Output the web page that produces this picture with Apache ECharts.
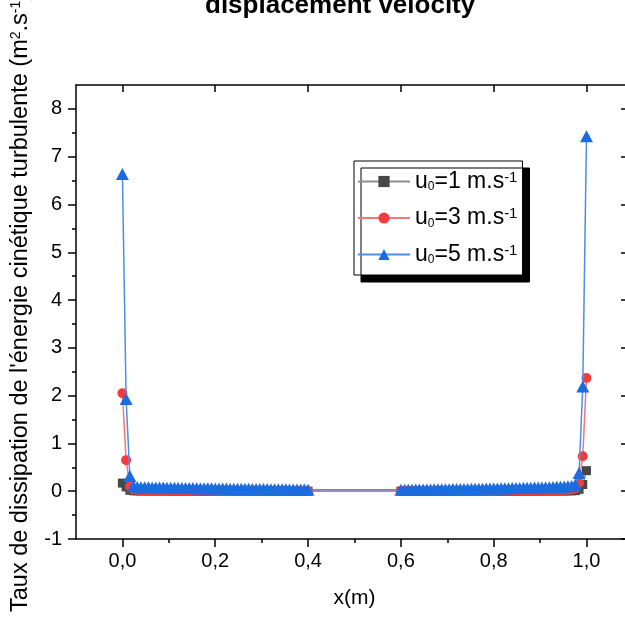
<!DOCTYPE html>
<html>
<head>
<meta charset="utf-8">
<script src="https://cdn.jsdelivr.net/npm/echarts@6/dist/echarts.min.js"></script>
<style>
html,body{margin:0;padding:0;background:#fff;}
#chart{width:625px;height:623px;}
</style>
</head>
<body>
<div id="chart"></div>
<script>
// ---- data ----
const chartTitle = 'displacement velocity';
const yAxisTitle = "Taux de dissipation de l'énergie cinétique turbulente (m{sp|2}.s{sp|-1})";
const seriesNames = ['u0=1 m.s-1', 'u0=3 m.s-1', 'u0=5 m.s-1'];
const xTickValues = [0, 0.2, 0.4, 0.6, 0.8, 1.0];
const xMinorTickValues = [0.1, 0.3, 0.5, 0.7, 0.9];
const yTickValues = [-1, 0, 1, 2, 3, 4, 5, 6, 7, 8];
const yMinorTickValues = [-0.5, 0.5, 1.5, 2.5, 3.5, 4.5, 5.5, 6.5, 7.5];

const xLeft = [0,0.008,0.016,0.024,0.032,0.04,0.048,0.056,0.064,0.072,0.08,0.088,0.096,0.104,0.112,0.12,0.128,0.136,0.144,0.152,0.16,0.168,0.176,0.184,0.192,0.2,0.208,0.216,0.224,0.232,0.24,0.248,0.256,0.264,0.272,0.28,0.288,0.296,0.304,0.312,0.32,0.328,0.336,0.344,0.352,0.36,0.368,0.376,0.384,0.392,0.4];
const xRight = [0.6,0.608,0.616,0.624,0.632,0.64,0.648,0.656,0.664,0.672,0.68,0.688,0.696,0.704,0.712,0.72,0.728,0.736,0.744,0.752,0.76,0.768,0.776,0.784,0.792,0.8,0.808,0.816,0.824,0.832,0.84,0.848,0.856,0.864,0.872,0.88,0.888,0.896,0.904,0.912,0.92,0.928,0.936,0.944,0.952,0.96,0.968,0.976,0.984,0.992,1.0];

// u0 = 1 m/s
const u1Left = [0.17,0.09,0.02,0.009,0.007,0.006,0.006,0.006,0.005,0.005,0.005,0.005,0.005,0.004,0.004,0.004,0.004,0.004,0.004,0.004,0.003,0.003,0.003,0.003,0.003,0.003,0.003,0.003,0.003,0.003,0.002,0.002,0.002,0.002,0.002,0.002,0.002,0.002,0.002,0.002,0.002,0.002,0.002,0.002,0.002,0.002,0.001,0.001,0.001,0.001,0.001];
const u1Right = [0.001,0.001,0.001,0.001,0.001,0.002,0.002,0.002,0.002,0.002,0.002,0.002,0.002,0.002,0.002,0.002,0.002,0.002,0.002,0.002,0.002,0.002,0.002,0.003,0.003,0.003,0.003,0.003,0.003,0.003,0.003,0.003,0.003,0.004,0.004,0.004,0.004,0.004,0.004,0.005,0.005,0.005,0.005,0.006,0.006,0.007,0.008,0.012,0.04,0.14,0.43];
// u0 = 3 m/s
const u3Left = [2.05,0.65,0.10,0.03,0.025,0.024,0.023,0.022,0.022,0.021,0.020,0.020,0.019,0.018,0.018,0.017,0.017,0.016,0.016,0.015,0.015,0.014,0.014,0.013,0.013,0.012,0.012,0.012,0.011,0.011,0.010,0.010,0.010,0.009,0.009,0.009,0.008,0.008,0.008,0.008,0.007,0.007,0.007,0.007,0.006,0.006,0.006,0.006,0.006,0.005,0.005];
const u3Right = [0.005,0.005,0.005,0.006,0.006,0.006,0.006,0.007,0.007,0.007,0.007,0.008,0.008,0.008,0.008,0.009,0.009,0.009,0.010,0.010,0.010,0.011,0.011,0.012,0.012,0.012,0.013,0.013,0.014,0.014,0.015,0.015,0.016,0.017,0.017,0.018,0.019,0.020,0.020,0.021,0.022,0.023,0.024,0.026,0.027,0.029,0.032,0.06,0.17,0.73,2.37];
// u0 = 5 m/s
const u5Left = [6.64,1.93,0.32,0.11,0.09,0.085,0.083,0.082,0.080,0.079,0.077,0.076,0.075,0.073,0.072,0.071,0.069,0.068,0.067,0.066,0.064,0.063,0.062,0.061,0.060,0.058,0.057,0.056,0.055,0.054,0.053,0.052,0.051,0.050,0.049,0.048,0.047,0.046,0.045,0.044,0.043,0.042,0.041,0.040,0.039,0.038,0.037,0.036,0.035,0.034,0.033];
const u5Right = [0.030,0.031,0.032,0.033,0.034,0.035,0.036,0.037,0.038,0.039,0.040,0.041,0.042,0.043,0.044,0.045,0.046,0.047,0.048,0.050,0.051,0.052,0.053,0.055,0.056,0.057,0.059,0.060,0.062,0.063,0.065,0.066,0.068,0.070,0.072,0.074,0.076,0.078,0.080,0.083,0.085,0.088,0.091,0.094,0.098,0.102,0.108,0.14,0.38,2.19,7.43];

// ---- build ----
function pairs(yl, yr) {
  return xLeft.map((x, i) => [x, yl[i]]).concat(xRight.map((x, i) => [x, yr[i]]));
}
const FONT = "'Liberation Sans', Arial, sans-serif";
const legendLabels = {
  'u0=1 m.s-1': '{n|u}{sb|0}{n|=1 m.s}{sp|-1}',
  'u0=3 m.s-1': '{n|u}{sb|0}{n|=3 m.s}{sp|-1}',
  'u0=5 m.s-1': '{n|u}{sb|0}{n|=5 m.s}{sp|-1}'
};
const axisLineStyle = {color: '#000', width: 1.5};
// the frame's right edge lies just outside the picture
const xRange = {type: 'value', min: -0.1, max: 1.083, splitLine: {show: false}};
const yRange = {type: 'value', min: -1, max: 8.5, splitLine: {show: false}};

const chart = echarts.init(document.getElementById('chart'), null, {renderer: 'canvas'});
chart.setOption({
  animation: false,
  backgroundColor: '#fff',
  title: {
    text: chartTitle, left: 200, top: -12,
    textStyle: {fontFamily: FONT, fontSize: 26, fontWeight: 'bold', color: '#000'}
  },
  graphic: [{
    type: 'text', x: 21, y: 612, rotation: Math.PI / 2, silent: true,
    style: {
      text: yAxisTitle, align: 'left', verticalAlign: 'middle',
      fontSize: 23.5, fontFamily: FONT, fill: '#000',
      rich: {sp: {fontSize: 14, fontFamily: FONT, fill: '#000', verticalAlign: 'top'}}
    }
  }],
  grid: {left: 76, top: 85, right: 0, height: 454, containLabel: false},
  xAxis: [
    Object.assign({}, xRange, {
      position: 'bottom',
      axisLine: {show: true, onZero: false, lineStyle: axisLineStyle},
      axisTick: {show: true, customValues: xTickValues, length: 8, lineStyle: axisLineStyle},
      axisLabel: {customValues: xTickValues, fontSize: 20, fontFamily: FONT, color: '#000', margin: 12,
        formatter: v => v.toFixed(1).replace('.', ',')},
      name: 'x(m)', nameLocation: 'middle', nameGap: 49,
      nameTextStyle: {fontSize: 21, fontFamily: FONT, color: '#000', padding: [0, 0, 0, 8]}
    }),
    Object.assign({}, xRange, {
      position: 'bottom',
      axisLine: {show: false, onZero: false},
      axisTick: {show: true, customValues: xMinorTickValues, length: 4, lineStyle: axisLineStyle},
      axisLabel: {show: false}
    }),
    Object.assign({}, xRange, {
      position: 'top',
      axisLine: {show: true, onZero: false, lineStyle: axisLineStyle},
      axisTick: {show: true, inside: true, customValues: xTickValues, length: 7, lineStyle: axisLineStyle},
      axisLabel: {show: false}
    })
  ],
  yAxis: [
    Object.assign({}, yRange, {
      position: 'left',
      axisLine: {show: true, onZero: false, lineStyle: axisLineStyle},
      axisTick: {show: true, customValues: yTickValues, length: 8, lineStyle: axisLineStyle},
      axisLabel: {customValues: yTickValues, fontSize: 20, fontFamily: FONT, color: '#000', margin: 14}
    }),
    Object.assign({}, yRange, {
      position: 'left',
      axisLine: {show: false, onZero: false},
      axisTick: {show: true, customValues: yMinorTickValues, length: 4, lineStyle: axisLineStyle},
      axisLabel: {show: false}
    }),
    Object.assign({}, yRange, {
      position: 'right',
      axisLine: {show: false, onZero: false},
      axisTick: {show: true, inside: true, customValues: yTickValues, length: 4, lineStyle: axisLineStyle},
      axisLabel: {show: false}
    })
  ],
  legend: {
    orient: 'vertical', left: 354, top: 161,
    padding: [9, 5, 9, 3], itemGap: 13.5, itemWidth: 52, itemHeight: 14,
    backgroundColor: '#fff', borderColor: '#000', borderWidth: 1,
    shadowColor: '#000', shadowBlur: 0, shadowOffsetX: 7, shadowOffsetY: 7,
    data: seriesNames,
    formatter: name => legendLabels[name],
    textStyle: {fontSize: 23, fontFamily: FONT, color: '#000',
      rich: {
        n: {fontSize: 23, fontFamily: FONT, color: '#000'},
        sb: {fontSize: 12, fontFamily: FONT, color: '#000', verticalAlign: 'bottom'},
        sp: {fontSize: 15, fontFamily: FONT, color: '#000', verticalAlign: 'top'}
      }}
  },
  series: [
    {name: seriesNames[0], type: 'line', data: pairs(u1Left, u1Right), xAxisIndex: 0, yAxisIndex: 0,
      symbol: 'rect', symbolSize: 9, showAllSymbol: true, z: 2,
      itemStyle: {color: '#474747'}, lineStyle: {color: '#8e8e8e', width: 1.5}},
    {name: seriesNames[1], type: 'line', data: pairs(u3Left, u3Right), xAxisIndex: 0, yAxisIndex: 0,
      symbol: 'circle', symbolSize: 10, showAllSymbol: true, z: 3,
      itemStyle: {color: '#f03c3c'}, lineStyle: {color: '#f27777', width: 1.5}},
    {name: seriesNames[2], type: 'line', data: pairs(u5Left, u5Right), xAxisIndex: 0, yAxisIndex: 0,
      symbol: 'triangle', symbolSize: [13, 12], showAllSymbol: true, z: 4,
      itemStyle: {color: '#1b6ddf'}, lineStyle: {color: '#4c8ee9', width: 1.5}}
  ]
});
</script>
</body>
</html>
